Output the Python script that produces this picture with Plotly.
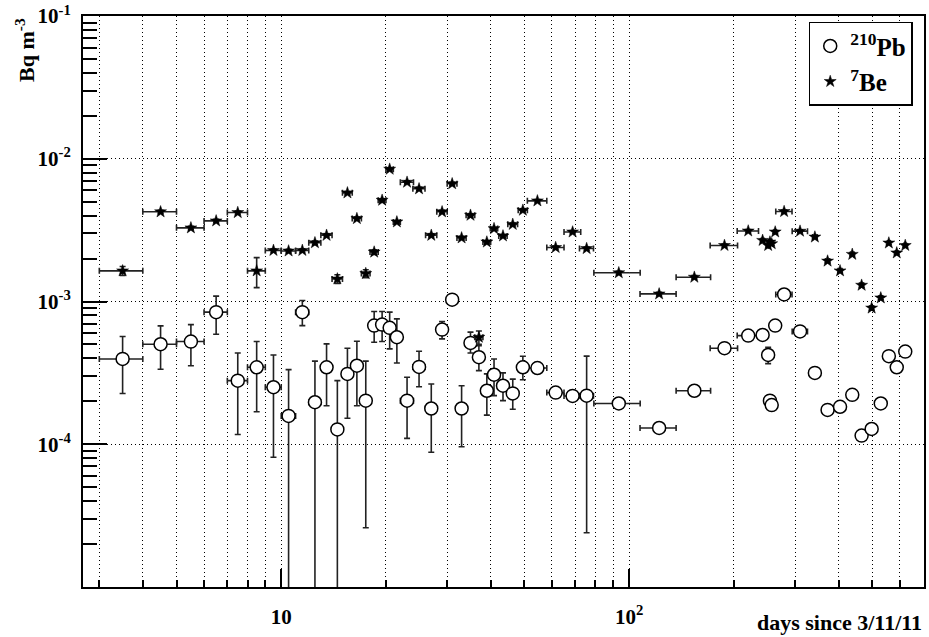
import plotly.graph_objects as go

# ---- data ----
days = [3.5, 4.5, 5.5, 6.5, 7.5, 8.5, 9.5, 10.5, 11.5, 12.5,
        13.5, 14.5, 15.5, 16.5, 17.5, 18.5, 19.5, 20.5, 21.5, 23.0,
        24.9, 27.0, 29.0, 31.0, 33.0, 35.0, 37.0, 39.0, 40.9, 43.4,
        46.3, 49.5, 54.5, 61.5, 68.8, 75.5, 93.4, 122, 154, 188,
        220, 242, 251, 254, 257, 263, 279, 310, 342, 372,
        404, 438, 466, 498, 529, 558, 588, 622]
days_err = [0.5, 0.5, 0.5, 0.5, 0.5, 0.5, 0.5, 0.5, 0.5, 0.5,
            0.5, 0.5, 0.5, 0.5, 0.5, 0.5, 0.5, 0.5, 0.5, 1.0,
            1.0, 1.0, 1.0, 1.0, 1.0, 1.0, 1.0, 1.0, 1.0, 1.2,
            1.5, 1.5, 3.5, 3.5, 3.8, 3.5, 14.2, 14.5, 17.5, 17.0,
            15.5, 2.0, 2.0, 2.0, 2.0, 2.0, 15.0, 15.7, 5.0, 5.0,
            5.0, 5.0, 5.0, 5.0, 5.0, 5.0, 5.0, 5.0]

pb210 = [3.96e-4, 5.02e-4, 5.24e-4, 8.42e-4, 2.79e-4, 3.46e-4, 2.51e-4, 1.58e-4, 8.42e-4, 1.97e-4,
         3.46e-4, 1.27e-4, 3.11e-4, 3.55e-4, 2.02e-4, 6.78e-4, 6.89e-4, 6.54e-4, 5.62e-4, 2.02e-4,
         3.48e-4, 1.78e-4, 6.36e-4, 1.03e-3, 1.78e-4, 5.13e-4, 4.07e-4, 2.37e-4, 3.07e-4, 2.57e-4,
         2.27e-4, 3.46e-4, 3.42e-4, 2.30e-4, 2.18e-4, 2.19e-4, 1.93e-4, 1.30e-4, 2.37e-4, 4.71e-4,
         5.77e-4, 5.83e-4, 4.22e-4, 2.02e-4, 1.88e-4, 6.78e-4, 1.12e-3, 6.17e-4, 3.16e-4, 1.74e-4,
         1.83e-4, 2.22e-4, 1.15e-4, 1.28e-4, 1.93e-4, 4.14e-4, 3.46e-4, 4.46e-4]
pb210_err_hi = [1.72e-4, 1.73e-4, 1.65e-4, 2.49e-4, 1.57e-4, 1.78e-4, 1.71e-4, 1.75e-4, 1.74e-4, 1.85e-4,
                1.59e-4, 1.52e-4, 1.60e-4, 1.72e-4, 1.80e-4, 1.73e-4, 1.62e-4, 1.88e-4, 1.94e-4, 0.93e-4,
                1.00e-4, 0.86e-4, 0.88e-4, 0.50e-4, 0.79e-4, 0.97e-4, 0.84e-4, 0.74e-4, 0.89e-4, 0.59e-4,
                0.59e-4, 0.67e-4, 0.20e-4, 0.15e-4, 0.15e-4, 1.95e-4, 0.12e-4, 0.08e-4, 0.12e-4, 0.20e-4,
                0.20e-4, 0.20e-4, 0.55e-4, 0.20e-4, 0.15e-4, 0.25e-4, 0.40e-4, 0.25e-4, 0.15e-4, 0.10e-4,
                0.10e-4, 0.10e-4, 0.08e-4, 0.08e-4, 0.10e-4, 0.20e-4, 0.15e-4, 0.20e-4]
pb210_err_lo = [1.69e-4, 1.67e-4, 1.69e-4, 2.52e-4, 1.62e-4, 1.77e-4, 1.70e-4, 1.75e-4, 1.64e-4, 2.00e-4,
                1.60e-4, 1.52e-4, 1.59e-4, 1.69e-4, 1.76e-4, 1.60e-4, 1.65e-4, 1.88e-4, 1.91e-4, 0.92e-4,
                0.95e-4, 0.90e-4, 0.89e-4, 0.50e-4, 0.82e-4, 0.77e-4, 0.79e-4, 0.77e-4, 0.88e-4, 0.55e-4,
                0.51e-4, 0.63e-4, 0.20e-4, 0.15e-4, 0.15e-4, 1.95e-4, 0.12e-4, 0.08e-4, 0.12e-4, 0.20e-4,
                0.20e-4, 0.20e-4, 0.55e-4, 0.20e-4, 0.15e-4, 0.25e-4, 0.40e-4, 0.25e-4, 0.15e-4, 0.10e-4,
                0.10e-4, 0.10e-4, 0.08e-4, 0.08e-4, 0.10e-4, 0.20e-4, 0.15e-4, 0.20e-4]

be7 = [1.64e-3, 4.25e-3, 3.28e-3, 3.67e-3, 4.20e-3, 1.64e-3, 2.28e-3, 2.26e-3, 2.28e-3, 2.58e-3,
       2.91e-3, 1.44e-3, 5.77e-3, 3.81e-3, 1.57e-3, 2.22e-3, 5.12e-3, 8.45e-3, 3.61e-3, 6.85e-3,
       6.16e-3, 2.91e-3, 4.25e-3, 6.68e-3, 2.79e-3, 4.02e-3, 5.62e-4, 2.61e-3, 3.24e-3, 2.88e-3,
       3.47e-3, 4.36e-3, 5.07e-3, 2.39e-3, 3.07e-3, 2.35e-3, 1.59e-3, 1.13e-3, 1.48e-3, 2.47e-3,
       3.12e-3, 2.68e-3, 2.47e-3, 2.61e-3, 2.54e-3, 3.07e-3, 4.27e-3, 3.11e-3, 2.83e-3, 1.92e-3,
       1.64e-3, 2.14e-3, 1.30e-3, 9.0e-4, 1.06e-3, 2.57e-3, 2.19e-3, 2.47e-3]
be7_err = [1.2e-4, 1.0e-4, 0.8e-4, 0.9e-4, 1.0e-4, 3.9e-4, 0.6e-4, 0.6e-4, 0.6e-4, 0.7e-4,
           0.7e-4, 1.0e-4, 1.3e-4, 0.9e-4, 1.0e-4, 0.8e-4, 1.2e-4, 1.8e-4, 0.8e-4, 1.5e-4,
           1.4e-4, 0.7e-4, 1.0e-4, 1.5e-4, 0.7e-4, 0.9e-4, 0.6e-4, 0.6e-4, 0.7e-4, 0.7e-4,
           0.8e-4, 1.0e-4, 1.1e-4, 0.6e-4, 0.7e-4, 0.6e-4, 0.4e-4, 0.3e-4, 0.4e-4, 0.6e-4,
           0.7e-4, 0.6e-4, 0.6e-4, 0.6e-4, 0.6e-4, 0.7e-4, 1.0e-4, 0.7e-4, 0.7e-4, 0.5e-4,
           0.4e-4, 0.5e-4, 0.4e-4, 0.3e-4, 0.3e-4, 0.6e-4, 0.5e-4, 0.6e-4]

x_major = [10, 100]
x_major_text = ["10", "10<sup>2</sup>"]
x_minor = [3, 4, 5, 6, 7, 8, 9, 20, 30, 40, 50, 60, 70, 80, 90, 200, 300, 400, 500, 600]
y_major = [1e-4, 1e-3, 1e-2, 1e-1]
y_major_text = ["10<sup>-4</sup>", "10<sup>-3</sup>", "10<sup>-2</sup>", "10<sup>-1</sup>"]
y_minor = [m * 10.0 ** e for e in (-5, -4, -3, -2) for m in (2, 3, 4, 5, 6, 7, 8, 9)]

FONT = "Liberation Serif"
ERR_COLOR = "#222222"

fig = go.Figure()

fig.add_trace(go.Scatter(
    x=days, y=pb210, mode="markers", name="<sup>210</sup>Pb",
    marker=dict(symbol="circle", size=13, color="white",
                line=dict(color="black", width=1.5)),
    error_x=dict(type="data", array=days_err, color=ERR_COLOR, thickness=1.6, width=3),
    error_y=dict(type="data", symmetric=False, array=pb210_err_hi,
                 arrayminus=pb210_err_lo, color=ERR_COLOR, thickness=1.6, width=3),
))

fig.add_trace(go.Scatter(
    x=days, y=be7, mode="markers", name="<sup>7</sup>Be",
    marker=dict(symbol="star", size=9, color="black",
                line=dict(color="black", width=0.5)),
    error_x=dict(type="data", array=days_err, color=ERR_COLOR, thickness=1.6, width=3),
    error_y=dict(type="data", array=be7_err, color=ERR_COLOR, thickness=1.6, width=3),
))

grid_dash = "1px,3px"

fig.update_xaxes(
    type="log", range=[0.4302, 2.8477], automargin=False,
    tickmode="array", tickvals=x_major, ticktext=x_major_text,
    ticks="inside", ticklen=18, tickwidth=1.5, tickcolor="black",
    showgrid=True, gridcolor="black", gridwidth=1, griddash=grid_dash,
    minor=dict(tickmode="array", tickvals=x_minor, ticks="inside", ticklen=7,
               tickwidth=1.5, tickcolor="black", showgrid=True,
               gridcolor="black", gridwidth=1, griddash=grid_dash),
    showline=True, linewidth=2, linecolor="black", mirror=True,
    zeroline=False,
    tickfont=dict(family=FONT, size=21, color="black", weight="bold"),
    ticklabelstandoff=10,
)

fig.update_yaxes(
    type="log", range=[-5, -1], automargin=False,
    tickmode="array", tickvals=y_major, ticktext=y_major_text,
    ticks="inside", ticklen=24, tickwidth=1.5, tickcolor="black",
    showgrid=True, gridcolor="black", gridwidth=1, griddash=grid_dash,
    minor=dict(tickmode="array", tickvals=y_minor, ticks="inside", ticklen=14,
               tickwidth=1.5, tickcolor="black", showgrid=False),
    showline=True, linewidth=2, linecolor="black", mirror=True,
    zeroline=False,
    tickfont=dict(family=FONT, size=21, color="black", weight="bold"),
    ticklabelstandoff=6,
)

fig.update_layout(
    width=929, height=637,
    margin=dict(l=83, r=5, t=16, b=50, autoexpand=False),
    paper_bgcolor="white", plot_bgcolor="white",
    font=dict(family=FONT, color="black", weight="bold"),
    showlegend=True,
    legend=dict(x=0.9866, xanchor="right", y=0.99, yanchor="top",
                bgcolor="white", bordercolor="black", borderwidth=1.5,
                font=dict(family=FONT, size=25, color="black", weight="bold")),
    annotations=[
        dict(text="days since 3/11/11", xref="paper", yref="paper",
             x=1.0, xanchor="right", y=-0.0613, yanchor="middle", showarrow=False,
             font=dict(family=FONT, size=22, color="black", weight="bold")),
        dict(text="Bq m<sup>-3</sup>", xref="paper", yref="paper",
             x=-0.069, xanchor="center", y=1.0, yanchor="top", showarrow=False,
             textangle=-90,
             font=dict(family=FONT, size=22, color="black", weight="bold")),
    ],
)

# the page's default body margin would shift the fixed-size figure; remove it
fig.write_html("out.html", config={"displayModeBar": False},
               post_script="document.body.style.margin='0px';document.body.style.padding='0px';")
